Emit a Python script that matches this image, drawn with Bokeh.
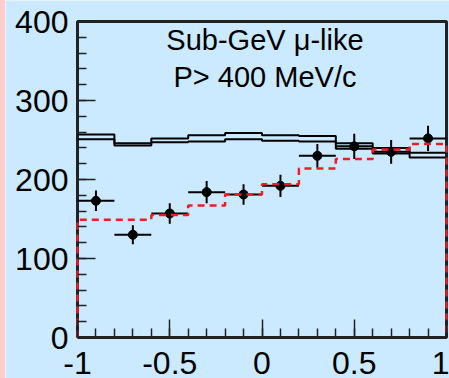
import numpy as np
from bokeh.plotting import figure
from bokeh.models import Label, SingleIntervalTicker, FixedTicker, Spacer
from bokeh.layouts import row
from bokeh.embed import file_html
from bokeh.resources import INLINE

# ---- data ----
bin_edges = [-1.0, -0.8, -0.6, -0.4, -0.2, 0.0, 0.2, 0.4, 0.6, 0.8, 1.0]
bin_centers = [-0.9, -0.7, -0.5, -0.3, -0.1, 0.1, 0.3, 0.5, 0.7, 0.9]
data_counts = [173, 130, 157, 184, 181, 192, 230, 242, 235, 252]
data_errors = [13, 12, 13, 14, 13, 14, 15, 16, 15, 16]
band_upper = [257, 246, 252, 256, 259, 256, 255, 246, 240, 234]
band_lower = [251, 243, 247, 248, 251, 249, 248, 239, 233, 228]
mc_osc = [149, 149, 155, 167, 181, 194, 214, 226, 238, 245]
x_tick_values = [-1, -0.5, 0, 0.5, 1]
x_tick_labels = ["-1", "-0.5", "0", "0.5", "1"]
y_tick_values = [0, 100, 200, 300, 400]
y_minor_values = list(range(0, 401, 20))
title_lines = ["Sub-GeV \u03bc-like", "P> 400 MeV/c"]

BG = "#cbeaff"
PINK = "#ffcccc"
FRAME = "#222222"
FONT = "Liberation Sans"

X0, X1 = -1.0, 1.0
Y0, Y1 = 0, 400
# pixel geometry of the drawing box inside the 444x378 canvas
PX_X = 369 / (X1 - X0)
PX_Y = 316 / (Y1 - Y0)
PAD_L, PAD_R, PAD_T, PAD_B = 72 / PX_X, 3 / PX_X, 21 / PX_Y, 41 / PX_Y


def step_xy(edges, vals, closed=False):
    xs, ys = [], []
    for i, v in enumerate(vals):
        xs += [edges[i], edges[i + 1]]
        ys += [v, v]
    if closed:
        xs = [edges[0]] + xs + [edges[-1]]
        ys = [0] + ys + [0]
    return xs, ys


p = figure(width=444, height=378,
           x_range=(X0 - PAD_L, X1 + PAD_R), y_range=(Y0 - PAD_B, Y1 + PAD_T),
           output_backend="svg", toolbar_location=None,
           min_border_left=0, min_border_right=0, min_border_top=0,
           min_border_bottom=0)
p.background_fill_color = BG
p.border_fill_color = BG
p.grid.visible = False
p.outline_line_color = None

p.xaxis.ticker = FixedTicker(ticks=x_tick_values,
                             minor_ticks=[round(v, 1) for v in np.arange(-1.0, 1.01, 0.1)])
p.yaxis.ticker = FixedTicker(ticks=y_tick_values, minor_ticks=y_minor_values)
p.xaxis.major_label_overrides = {float(v): s for v, s in zip(x_tick_values, x_tick_labels)}

for ax in (p.xaxis[0], p.yaxis[0]):
    ax.axis_line_color = None
    ax.major_tick_in = 18
    ax.major_tick_out = 0
    ax.minor_tick_in = 9
    ax.minor_tick_out = 0
    ax.major_tick_line_color = FRAME
    ax.minor_tick_line_color = FRAME
    ax.major_tick_line_width = 1.5
    ax.minor_tick_line_width = 1.5
    ax.major_label_text_font = FONT
    ax.major_label_text_font_size = "32px"
    ax.major_label_text_color = "black"
p.yaxis.fixed_location = X0
p.yaxis.major_label_standoff = 9
p.xaxis.fixed_location = Y0
p.xaxis.major_label_standoff = 14

# frame box
p.line([X0, X0, X1, X1, X0], [Y0, Y1, Y1, Y0, Y0], line_color=FRAME, line_width=3)

# expectation band (two step lines)
for vals in (band_upper, band_lower):
    xs, ys = step_xy(bin_edges, vals)
    p.line(xs, ys, line_color="black", line_width=2)

# data points with error bars
half_w = [(bin_edges[i + 1] - bin_edges[i]) / 2 for i in range(len(bin_centers))]
p.segment(x0=[c - h for c, h in zip(bin_centers, half_w)], y0=data_counts,
          x1=[c + h for c, h in zip(bin_centers, half_w)], y1=data_counts,
          line_color="black", line_width=2)
p.segment(x0=bin_centers, y0=[d - e for d, e in zip(data_counts, data_errors)],
          x1=bin_centers, y1=[d + e for d, e in zip(data_counts, data_errors)],
          line_color="black", line_width=2)
p.scatter(bin_centers, data_counts, size=9, color="black")

# oscillated expectation (red dashed, closed histogram)
xs, ys = step_xy(bin_edges, mc_osc, closed=True)
p.line(xs, ys, line_color="#ee1c24", line_width=2.5, line_dash="7 5")

for text, yv in zip(title_lines, [377, 330]):
    p.add_layout(Label(x=0.016, y=yv, text=text, text_align="center",
                       text_baseline="alphabetic", text_font=FONT,
                       text_font_size="29px", text_color="black"))

layout = row(Spacer(width=5, height=378, styles={"background-color": PINK}), p)
open("out.html", "w").write(file_html(layout, INLINE))
